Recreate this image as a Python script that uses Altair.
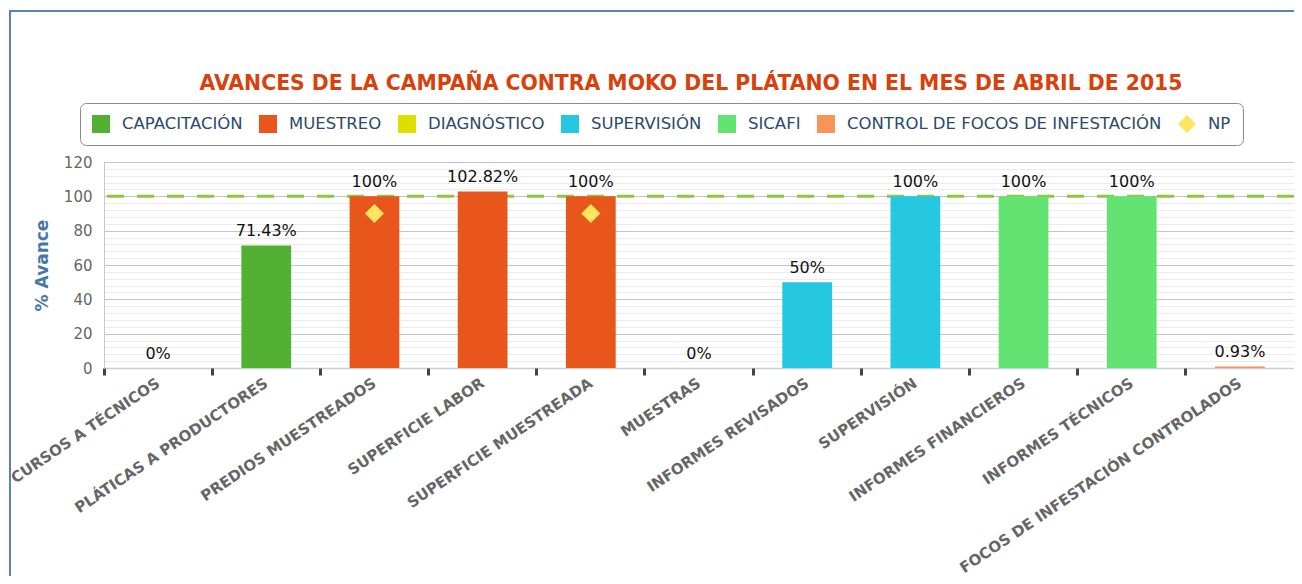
import altair as alt
import pandas as pd

categorias = [
    "CURSOS A TÉCNICOS", "PLÁTICAS A PRODUCTORES", "PREDIOS MUESTREADOS",
    "SUPERFICIE LABOR", "SUPERFICIE MUESTREADA", "MUESTRAS",
    "INFORMES REVISADOS", "SUPERVISIÓN", "INFORMES FINANCIEROS",
    "INFORMES TÉCNICOS", "FOCOS DE INFESTACIÓN CONTROLADOS",
]
grupos = [
    "CAPACITACIÓN", "CAPACITACIÓN", "MUESTREO", "MUESTREO", "MUESTREO",
    "DIAGNÓSTICO", "SUPERVISIÓN", "SUPERVISIÓN", "SICAFI", "SICAFI",
    "CONTROL DE FOCOS DE INFESTACIÓN",
]
avance = [0, 71.43, 100, 102.82, 100, 0, 50, 100, 100, 100, 0.93]
etiquetas = ["0%", "71.43%", "100%", "102.82%", "100%", "0%", "50%",
             "100%", "100%", "100%", "0.93%"]

np_categorias = ["PREDIOS MUESTREADOS", "SUPERFICIE MUESTREADA"]
np_grupo = ["NP", "NP"]
np_valores = [90, 90]

meta = [100]

serie_nombres = ["CAPACITACIÓN", "MUESTREO", "DIAGNÓSTICO", "SUPERVISIÓN",
                 "SICAFI", "CONTROL DE FOCOS DE INFESTACIÓN", "NP"]
serie_colores = ["#52b132", "#e8561c", "#dede00", "#25c8e0",
                 "#63e371", "#f89458", "#fde55f"]
serie_formas = ["square", "square", "square", "square", "square", "square", "diamond"]

y_ticks = [0, 4, 8, 12, 16, 20, 24, 28, 32, 36, 40, 44, 48, 52, 56, 60,
           64, 68, 72, 76, 80, 84, 88, 92, 96, 100, 104, 108, 112, 116, 120]

titulo = "AVANCES DE LA CAMPAÑA CONTRA MOKO DEL PLÁTANO EN EL MES DE ABRIL DE 2015"

df = pd.DataFrame({"Categoria": categorias, "Grupo": grupos,
                   "Avance": avance, "Etiqueta": etiquetas})
df_np = pd.DataFrame({"Categoria": np_categorias, "Grupo": np_grupo,
                      "Avance": np_valores})
df_meta = pd.DataFrame({"Meta": meta})

FONT = "DejaVu Sans"

x_scale = alt.Scale(domain=categorias, paddingInner=0, paddingOuter=0)
y_scale = alt.Scale(domain=[0, 120], nice=False)
color_scale = alt.Scale(domain=serie_nombres, range=serie_colores)
shape_scale = alt.Scale(domain=serie_nombres, range=serie_formas)

x_labels_axis = alt.Axis(
    orient="bottom", title=None, labelAngle=-34, labelFont=FONT,
    labelFontWeight="bold", labelFontSize=15, labelColor="#666666",
    labelPadding=13, ticks=False, grid=False, domain=True,
    domainColor="#c0d0e0", domainWidth=1.5, labelAlign="right",
    labelBaseline="middle", labelLimit=500,
)
x_ticks_axis = alt.Axis(
    orient="bottom", title=None, labels=False, ticks=True,
    tickColor="#444444", tickWidth=3, tickSize=7, bandPosition=0,
    domain=False, grid=False,
)
y_axis = alt.Axis(
    title="% Avance", values=y_ticks,
    labelExpr="datum.value % 20 == 0 ? datum.label : ''",
    labelFont=FONT, labelFontSize=15, labelColor="#666666", labelPadding=12,
    ticks=False, domain=True, domainColor="#c8c8c8",
    grid=True,
    gridColor=alt.condition("datum.value % 20 == 0", alt.value("#c4c4c4"), alt.value("#ececec")),
    gridWidth=1,
    titleFont=FONT, titleFontSize=17, titleFontWeight="bold", titleColor="#4a76a8",
    titleAngle=-90, titleX=-62, titleY=103, titleAlign="center", titleBaseline="middle",
)

leyenda = alt.Legend(
    orient="none", legendX=-24, legendY=-59, direction="horizontal", title=None,
    strokeColor="#8a8a8a", fillColor="white", cornerRadius=6, padding=12,
    labelFont=FONT, labelFontSize=16.5, labelColor="#2b4a6b", labelLimit=600,
    symbolSize=324, symbolStrokeWidth=0, labelOffset=12, columnPadding=16,
    symbolOpacity=1,
)

linea_meta = alt.Chart(df_meta).mark_rule(
    color="#8dc63f", strokeWidth=3, strokeDash=[17, 13]
).encode(y=alt.Y("Meta:Q", scale=y_scale, axis=y_axis))

barras = alt.Chart(df).mark_bar(width=alt.RelativeBandSize(0.46)).encode(
    x=alt.X("Categoria:N", scale=x_scale, axis=x_labels_axis, sort=categorias),
    y=alt.Y("Avance:Q", scale=y_scale, axis=y_axis),
    color=alt.Color("Grupo:N", scale=color_scale, legend=leyenda),
)

textos = alt.Chart(df).mark_text(
    baseline="alphabetic", dy=-9, fontSize=16, font=FONT, color="#111111"
).encode(
    x=alt.X("Categoria:N", scale=x_scale, axis=None, sort=categorias),
    y=alt.Y("Avance:Q", scale=y_scale, axis=y_axis),
    text="Etiqueta:N",
)

puntos = alt.Chart(df_np).mark_point(filled=True, size=360, opacity=1).encode(
    x=alt.X("Categoria:N", scale=x_scale, axis=x_ticks_axis, sort=categorias),
    y=alt.Y("Avance:Q", scale=y_scale, axis=y_axis),
    color=alt.Color("Grupo:N", scale=color_scale, legend=leyenda),
    shape=alt.Shape("Grupo:N", scale=shape_scale, legend=leyenda),
)

marco_izq = alt.Chart(alt.Data(values=[{}])).mark_rule(
    color="#5a82b4", strokeWidth=2
).encode(x=alt.value(-94), y=alt.value(-151), y2=alt.value(430))
marco_sup = alt.Chart(alt.Data(values=[{}])).mark_rule(
    color="#5a82b4", strokeWidth=2
).encode(x=alt.value(-95), x2=alt.value(1200), y=alt.value(-151))

chart = alt.layer(
    linea_meta, barras, textos, puntos, marco_izq, marco_sup
).resolve_axis(x="independent").properties(
    width=1190, height=206,
    title=alt.Title(titulo, font=FONT, fontSize=20.4, fontWeight="bold",
                    color="#d8400c", anchor="middle", offset=0, dy=84, dx=-8),
    autosize=alt.AutoSizeParams(type="none"),
    padding={"left": 96, "top": 154, "right": 0, "bottom": 208},
).configure_view(stroke=None).configure(background="white")

chart.save("out.html", embed_options={"renderer": "svg", "actions": False})
